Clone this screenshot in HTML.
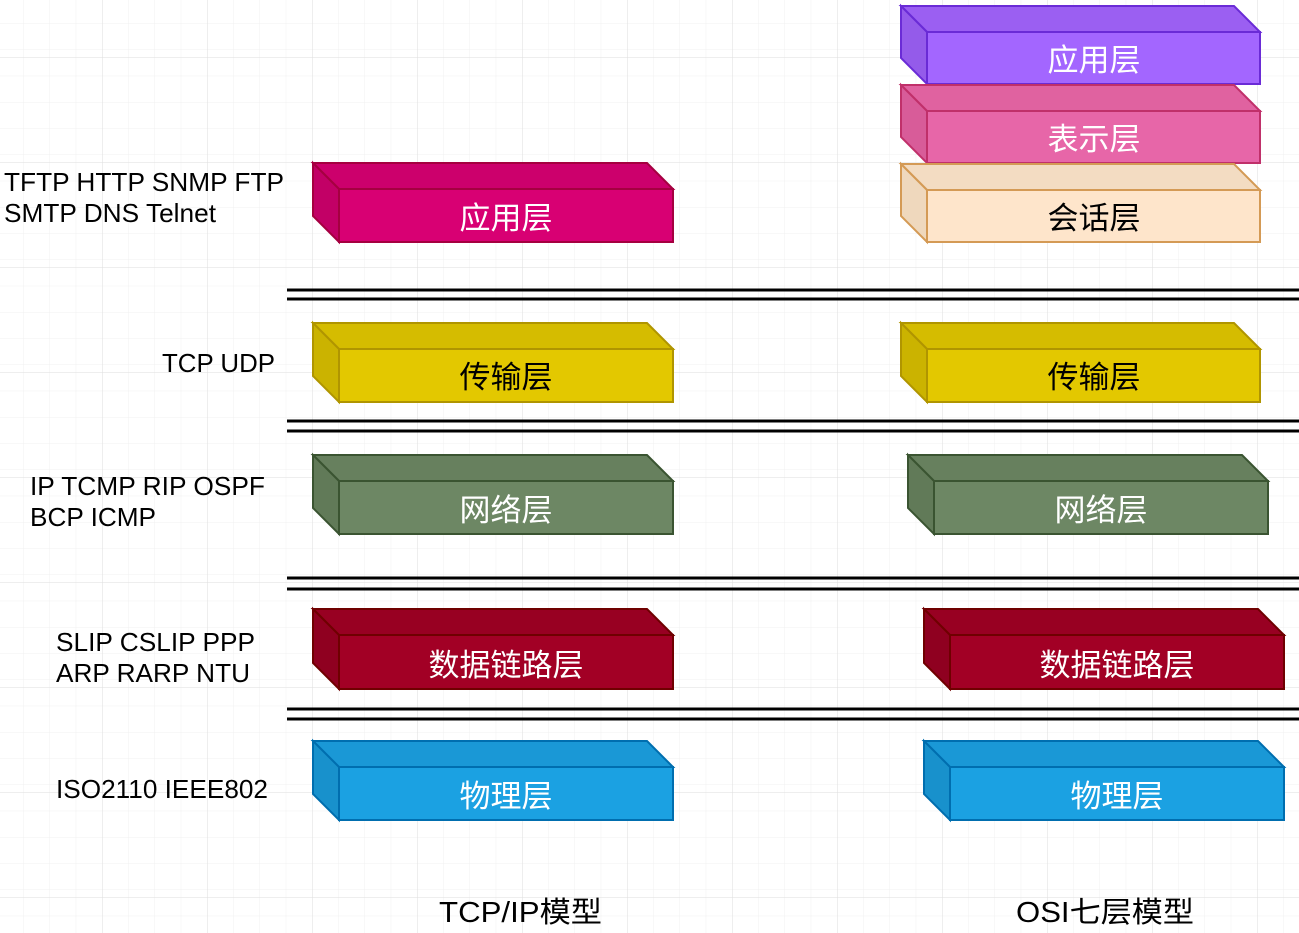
<!DOCTYPE html>
<html><head><meta charset="utf-8"><style>
html,body{margin:0;padding:0;background:#fff;}
svg{display:block;}
text{font-family:"Liberation Sans","Noto Sans CJK SC",sans-serif;}
</style></head><body>
<svg width="1299" height="933" viewBox="0 0 1299 933" xmlns="http://www.w3.org/2000/svg">
<defs>
<pattern id="minor" x="-3" y="-3" width="26.25" height="26.25" patternUnits="userSpaceOnUse">
<path d="M0 0H26.25M0 0V26.25" stroke="#f0f0f0" stroke-width="1" fill="none"/>
</pattern>
<pattern id="major" x="-3" y="-48" width="105" height="105" patternUnits="userSpaceOnUse">
<path d="M0 0H105M0 0V105" stroke="#dedede" stroke-width="1" fill="none"/>
</pattern>
</defs>
<rect width="1299" height="933" fill="url(#minor)"/>
<rect width="1299" height="933" fill="url(#major)"/>

<g stroke="#000" stroke-width="3">
<line x1="287" y1="290" x2="1299" y2="290"/><line x1="287" y1="299" x2="1299" y2="299"/>
<line x1="287" y1="421" x2="1299" y2="421"/><line x1="287" y1="431" x2="1299" y2="431"/>
<line x1="287" y1="578" x2="1299" y2="578"/><line x1="287" y1="589" x2="1299" y2="589"/>
<line x1="287" y1="709" x2="1299" y2="709"/><line x1="287" y1="719" x2="1299" y2="719"/>
</g>

<g stroke-width="2" stroke-linejoin="miter">
<g stroke="#6a2bd6"><polygon points="901,6 1234,6 1260,32 927,32" fill="#9b5ff2"/><polygon points="901,6 927,32 927,84 901,58" fill="#945bea"/><rect x="927" y="32" width="333" height="52" fill="#a366ff"/></g>
<g stroke="#c0306a"><polygon points="901,85 1234,85 1260,111 927,111" fill="#e062a0"/><polygon points="901,85 927,111 927,163 901,137" fill="#d85c99"/><rect x="927" y="111" width="333" height="52" fill="#e766a8"/></g>
<g stroke="#d49a55"><polygon points="901,164 1234,164 1260,190 927,190" fill="#f3dcc2"/><polygon points="901,164 927,190 927,242 901,216" fill="#efd8bd"/><rect x="927" y="190" width="333" height="52" fill="#fee5cb"/></g>
<g stroke="#a50040"><polygon points="313,163 647,163 673,189 339,189" fill="#cc006c"/><polygon points="313,163 339,189 339,242 313,216" fill="#c20066"/><rect x="339" y="189" width="334" height="53" fill="#d80073"/></g>
<g stroke="#b09500"><polygon points="313,323 647,323 673,349 339,349" fill="#d5bc00"/><polygon points="313,323 339,349 339,402 313,376" fill="#cbb300"/><rect x="339" y="349" width="334" height="53" fill="#e3c800"/></g>
<g stroke="#b09500"><polygon points="901,323 1234,323 1260,349 927,349" fill="#d5bc00"/><polygon points="901,323 927,349 927,402 901,376" fill="#cbb300"/><rect x="927" y="349" width="333" height="53" fill="#e3c800"/></g>
<g stroke="#3a5431"><polygon points="313,455 647,455 673,481 339,481" fill="#67805e"/><polygon points="313,455 339,481 339,534 313,508" fill="#617a58"/><rect x="339" y="481" width="334" height="53" fill="#6d8764"/></g>
<g stroke="#3a5431"><polygon points="908,455 1242,455 1268,481 934,481" fill="#67805e"/><polygon points="908,455 934,481 934,534 908,508" fill="#617a58"/><rect x="934" y="481" width="334" height="53" fill="#6d8764"/></g>
<g stroke="#6f0000"><polygon points="313,609 647,609 673,635 339,635" fill="#980022"/><polygon points="313,609 339,635 339,689 313,663" fill="#8f0020"/><rect x="339" y="635" width="334" height="54" fill="#a20025"/></g>
<g stroke="#6f0000"><polygon points="924,609 1258,609 1284,635 950,635" fill="#980022"/><polygon points="924,609 950,635 950,689 924,663" fill="#8f0020"/><rect x="950" y="635" width="334" height="54" fill="#a20025"/></g>
<g stroke="#006eaf"><polygon points="313,741 647,741 673,767 339,767" fill="#1a98d6"/><polygon points="313,741 339,767 339,820 313,794" fill="#1891cc"/><rect x="339" y="767" width="334" height="53" fill="#1ba1e2"/></g>
<g stroke="#006eaf"><polygon points="924,741 1258,741 1284,767 950,767" fill="#1a98d6"/><polygon points="924,741 950,767 950,820 924,794" fill="#1891cc"/><rect x="950" y="767" width="334" height="53" fill="#1ba1e2"/></g>
</g>

<g font-size="31" text-anchor="middle" fill="#fff">
<text x="1094" y="71">应用层</text>
<text x="1094" y="150">表示层</text>
<text x="1094" y="229" fill="#000">会话层</text>
<text x="506" y="229">应用层</text>
<text x="506" y="388" fill="#000">传输层</text>
<text x="1094" y="388" fill="#000">传输层</text>
<text x="506" y="521">网络层</text>
<text x="1101" y="521">网络层</text>
<text x="506" y="676">数据链路层</text>
<text x="1117" y="676">数据链路层</text>
<text x="506" y="807">物理层</text>
<text x="1117" y="807">物理层</text>
</g>

<g font-size="26" fill="#000" lengthAdjust="spacingAndGlyphs">
<text x="4" y="191" textLength="280" lengthAdjust="spacingAndGlyphs">TFTP HTTP SNMP FTP</text>
<text x="4" y="222" textLength="212" lengthAdjust="spacingAndGlyphs">SMTP DNS Telnet</text>
<text x="162" y="372" textLength="113" lengthAdjust="spacingAndGlyphs">TCP UDP</text>
<text x="30" y="495" textLength="235" lengthAdjust="spacingAndGlyphs">IP TCMP RIP OSPF</text>
<text x="30" y="526" textLength="126" lengthAdjust="spacingAndGlyphs">BCP ICMP</text>
<text x="56" y="651" textLength="199" lengthAdjust="spacingAndGlyphs">SLIP CSLIP PPP</text>
<text x="56" y="682" textLength="194" lengthAdjust="spacingAndGlyphs">ARP RARP NTU</text>
<text x="56" y="798" textLength="212" lengthAdjust="spacingAndGlyphs">ISO2110 IEEE802</text>
</g>
<g font-size="29" fill="#000">
<text x="439" y="922" textLength="163" lengthAdjust="spacingAndGlyphs">TCP/IP模型</text>
<text x="1016" y="922" textLength="178" lengthAdjust="spacingAndGlyphs">OSI七层模型</text>
</g>
</svg>
</body></html>
